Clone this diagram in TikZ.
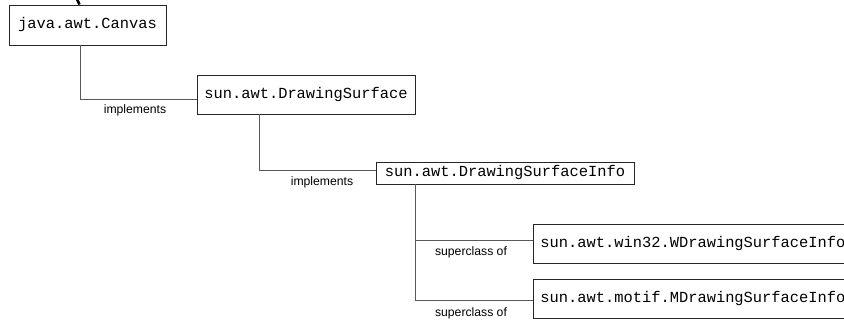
\documentclass[tikz,border=0pt]{standalone}
\usepackage{fontspec}
\setmainfont{Liberation Sans}
\newfontfamily\codefont{Liberation Mono}
\begin{document}
\begin{tikzpicture}[x=1pt,y=-1pt,
  classbox/.style={draw=black!85,line width=0.9pt,rectangle,inner sep=0pt,
    font=\codefont\fontsize{15.4}{16}\selectfont},
  link/.style={draw=black!65,line width=0.9pt},
  rel/.style={inner sep=0pt,font=\fontsize{12.2}{13}\selectfont}]
\useasboundingbox (0,0) rectangle (844,320);
\clip (0,0) rectangle (844,320);

% class boxes
\node[classbox,minimum width=157pt,minimum height=40pt] (canvas) at (87.5,25) {java.awt.Canvas};
\node[classbox,minimum width=218pt,minimum height=39pt] (ds) at (306,94.5) {sun.awt.DrawingSurface};
\node[classbox,minimum width=258pt,minimum height=22pt] (dsi) at (505,173) {sun.awt.DrawingSurfaceInfo};
\node[classbox,anchor=west,inner xsep=7pt,minimum height=39pt] (w32) at (533,243.5) {sun.awt.win32.WDrawingSurfaceInfo};
\node[classbox,anchor=west,inner xsep=7pt,minimum height=39pt] (motif) at (533,298.5) {sun.awt.motif.MDrawingSurfaceInfo};

% incoming edge from above
\coordinate (top) at (76.5,-2);
\draw[line width=2.6pt] (top) -- (canvas.north -| 79.5,0);

% bend points of the connectors
\coordinate (b1) at (80,99);
\coordinate (b2) at (259,170);
\coordinate (b3) at (415,240);
\coordinate (b4) at (415,300);

\draw[link] (canvas.south -| b1) -- (b1) -- (b1 -| ds.west);
\draw[link] (ds.south -| b2) -- (b2) -- (b2 -| dsi.west);
\draw[link] (dsi.south -| b3) -- (b4) -- (b4 -| motif.west);
\draw[link] (b3) -- (b3 -| w32.west);

% relation labels
\node[rel] (l1) at (135,110) {implements};
\node[rel] (l2) at (322,182) {implements};
\node[rel] (l3) at (471,252) {superclass of};
\node[rel] (l4) at (471,313) {superclass of};
\end{tikzpicture}
\end{document}
